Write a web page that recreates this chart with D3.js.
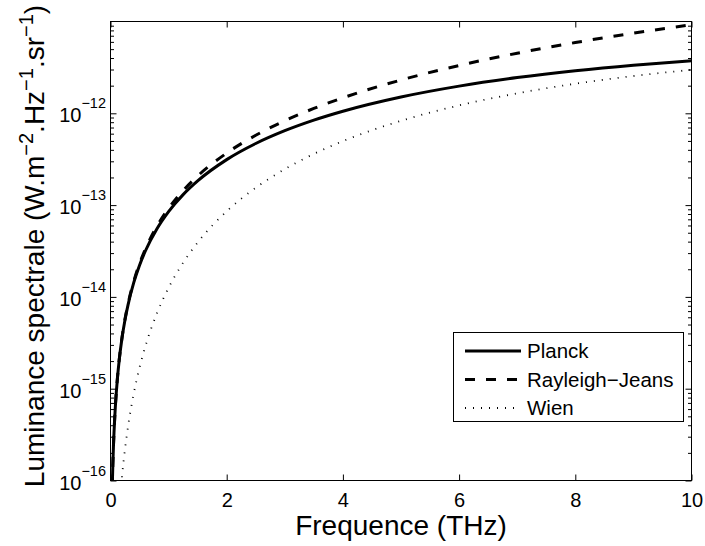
<!DOCTYPE html>
<html>
<head>
<meta charset="utf-8">
<script src="https://cdn.jsdelivr.net/npm/d3@7"></script>
<style>
  html, body { margin: 0; padding: 0; background: #fff; }
  svg { display: block; font-family: "Liberation Sans", Arial, Helvetica, sans-serif; }
</style>
</head>
<body>
<svg id="chart" width="705" height="546"></svg>
<script>
// Frequencies (THz) and spectral radiance (W.m^-2.Hz^-1.sr^-1)
const freq = [0.03,0.04,0.05,0.06,0.08,0.1,0.12,0.15,0.2,0.25,0.3,0.4,0.5,0.6,0.8,1,1.25,1.5,2,2.5,3,3.5,4,5,6,7,8,9,10];
const planck = [8.27e-17,1.470e-16,2.295e-16,3.302e-16,5.861e-16,9.143e-16,1.3145e-15,2.049e-15,3.628e-15,5.646e-15,8.096e-15,1.4277e-14,2.213e-14,3.161e-14,5.530e-14,8.499e-14,1.3010e-13,1.8349e-13,3.1285e-13,4.6855e-13,6.463e-13,8.423e-13,1.0528e-12,1.5042e-12,1.9764e-12,2.4497e-12,2.9078e-12,3.338e-12,3.731e-12];
const rayleighJeans = [8.295e-17,1.4747e-16,2.304e-16,3.318e-16,5.899e-16,9.217e-16,1.3272e-15,2.0738e-15,3.687e-15,5.761e-15,8.295e-15,1.4747e-14,2.304e-14,3.318e-14,5.899e-14,9.217e-14,1.4402e-13,2.0738e-13,3.687e-13,5.761e-13,8.295e-13,1.1291e-12,1.4747e-12,2.3043e-12,3.3181e-12,4.5163e-12,5.8989e-12,7.4658e-12,9.217e-12];
const wien = [3.96e-19,9.38e-19,1.828e-18,3.155e-18,7.455e-18,1.451e-17,2.500e-17,4.859e-17,1.1427e-16,2.214e-16,3.795e-16,8.853e-16,1.7015e-15,2.894e-15,6.644e-15,1.2566e-14,2.358e-14,3.915e-14,8.567e-14,1.5447e-13,2.4638e-13,3.612e-13,4.977e-13,8.283e-13,1.2197e-12,1.6505e-12,2.0993e-12,2.547e-12,2.977e-12];

const xTicks = [0,2,4,6,8,10];
const xTickLabels = ["0","2","4","6","8","10"];
const yTicks = [1e-16,1e-15,1e-14,1e-13,1e-12];
const yTickExponents = ["−16","−15","−14","−13","−12"];
const seriesNames = ["Planck","Rayleigh−Jeans","Wien"];

const svg = d3.select("#chart");
const L = 110.5, R = 691.5, T = 21.5, B = 480.5;

const x = d3.scaleLinear().domain([0,10]).range([L,R]);
const y = d3.scaleLog().domain([1e-16,1e-11]).range([B,T]);

svg.append("rect").attr("width",705).attr("height",546).attr("fill","#fff");

svg.append("defs").append("clipPath").attr("id","clip")
  .append("rect").attr("x",L).attr("y",T).attr("width",R-L).attr("height",B-T);

// minor log ticks
const minorTicks = [];
for (let e = -16; e < -11; e++) for (let m = 2; m <= 9; m++) minorTicks.push(m*Math.pow(10,e));

function styleAxis(g){ g.select(".domain").remove(); g.selectAll("line").attr("stroke","#000").attr("stroke-width",1); }

// x axes
svg.append("g").attr("transform",`translate(0,${B})`)
  .call(d3.axisBottom(x).tickValues(xTicks).tickSize(-6).tickPadding(12)
        .tickFormat((d,i)=>xTickLabels[i]))
  .call(styleAxis)
  .call(g=>g.selectAll("text").attr("font-size",20).attr("fill","#000")
        .attr("font-family","'Liberation Sans', Arial, sans-serif").attr("dy","0.72em"));
svg.append("g").attr("transform",`translate(0,${T})`)
  .call(d3.axisTop(x).tickValues(xTicks).tickSize(-6).tickFormat(""))
  .call(styleAxis);

// y axes
svg.append("g").attr("transform",`translate(${L},0)`)
  .call(d3.axisLeft(y).tickValues(yTicks).tickSize(-6).tickFormat(""))
  .call(styleAxis);
svg.append("g").attr("transform",`translate(${L},0)`)
  .call(d3.axisLeft(y).tickValues(minorTicks).tickSize(-3.5).tickFormat(""))
  .call(styleAxis);
svg.append("g").attr("transform",`translate(${R},0)`)
  .call(d3.axisRight(y).tickValues(yTicks).tickSize(-6).tickFormat(""))
  .call(styleAxis);
svg.append("g").attr("transform",`translate(${R},0)`)
  .call(d3.axisRight(y).tickValues(minorTicks).tickSize(-3.5).tickFormat(""))
  .call(styleAxis);

// y tick labels with superscripts
yTicks.forEach((v,i)=>{
  const t = svg.append("text").attr("x",L-4.5).attr("y",y(v)+9)
    .attr("text-anchor","end").attr("fill","#000").attr("font-size",20);
  t.append("tspan").text("10");
  t.append("tspan").attr("dy",-14).attr("font-size",14.5).text(yTickExponents[i]);
});

// curves
const pts = s => freq.map((f,i)=>[f,s[i]]);
const line = d3.line().x(d=>x(d[0])).y(d=>y(Math.max(d[1],1e-20))).curve(d3.curveMonotoneX);
const plot = svg.append("g").attr("clip-path","url(#clip)");
plot.append("path").attr("d",line(pts(planck))).attr("fill","none")
  .attr("stroke","#000").attr("stroke-width",3).attr("stroke-linejoin","round");
plot.append("path").attr("d",line(pts(rayleighJeans))).attr("fill","none")
  .attr("stroke","#000").attr("stroke-width",3).attr("stroke-dasharray","10,11");
plot.append("path").attr("d",line(pts(wien))).attr("fill","none")
  .attr("stroke","#000").attr("stroke-width",1.8).attr("stroke-dasharray","1,7");

// frame
svg.append("rect").attr("x",L).attr("y",T).attr("width",R-L).attr("height",B-T)
  .attr("fill","none").attr("stroke","#000").attr("stroke-width",1);

// axis labels
svg.append("text").attr("x",(L+R)/2).attr("y",535).attr("text-anchor","middle")
  .attr("font-size",28).attr("fill","#000").text("Frequence (THz)");

const yl = svg.append("text").attr("transform","translate(43.5,246) rotate(-90)")
  .attr("text-anchor","middle").attr("font-size",28).attr("fill","#000");
yl.append("tspan").text("Luminance spectrale (W.m");
yl.append("tspan").attr("dy",-11).attr("font-size",20).text("−2");
yl.append("tspan").attr("dy",11).text(".Hz");
yl.append("tspan").attr("dy",-11).attr("font-size",20).text("−1");
yl.append("tspan").attr("dy",11).text(".sr");
yl.append("tspan").attr("dy",-11).attr("font-size",20).text("−1");
yl.append("tspan").attr("dy",11).text(")");

// legend
const lg = svg.append("g");
lg.append("rect").attr("x",453.5).attr("y",332.5).attr("width",230).attr("height",89)
  .attr("fill","#fff").attr("stroke","#000").attr("stroke-width",1);
const styles = [
  {w:3, dash:null},
  {w:3, dash:"10,11"},
  {w:1.8, dash:"1,7"}
];
seriesNames.forEach((n,i)=>{
  const cy = 351 + i*28.5;
  const l = lg.append("line").attr("x1",465).attr("x2",521).attr("y1",cy).attr("y2",cy)
    .attr("stroke","#000").attr("stroke-width",styles[i].w);
  if (styles[i].dash) l.attr("stroke-dasharray",styles[i].dash);
  lg.append("text").attr("x",527).attr("y",cy+7).attr("font-size",20.5).attr("fill","#000").text(n);
});
</script>
</body>
</html>
